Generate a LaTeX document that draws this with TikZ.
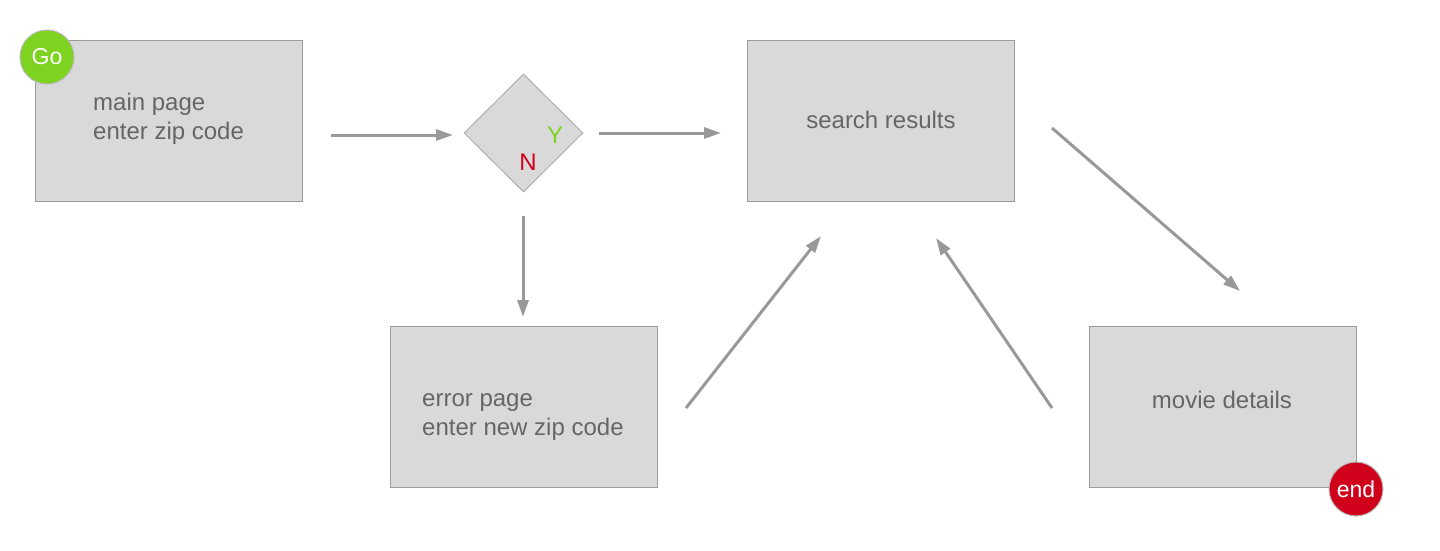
\documentclass[tikz,border=0pt]{standalone}
\usepackage{fontspec}
\setmainfont{Liberation Sans}
\usetikzlibrary{arrows.meta,shapes.geometric}
\definecolor{boxfill}{HTML}{D9D9D9}
\definecolor{boxline}{HTML}{9B9B9B}
\definecolor{txt}{HTML}{666666}
\definecolor{arr}{HTML}{999999}
\definecolor{gogreen}{HTML}{7ED321}
\definecolor{endred}{HTML}{D0021B}
\tikzset{
  pagebox/.style={draw=boxline, line width=1pt, fill=boxfill, minimum width=267pt, minimum height=161pt, inner sep=0pt},
  lbl/.style={text=txt, font=\fontsize{24}{29}\selectfont, align=left, inner sep=0pt},
  flow/.style={draw=arr, line width=3pt, -{Triangle[length=17pt,width=11pt]}},
  badge/.style={circle, draw=boxline!70, line width=1pt, minimum size=54pt, inner sep=0pt, text=white, font=\fontsize{23}{26}\selectfont},
  dec/.style={diamond, draw=boxline!80, line width=1pt, fill=boxfill, minimum width=119pt, minimum height=118pt, inner sep=0pt},
}
\begin{document}
\begin{tikzpicture}[x=1pt,y=-1pt]
\useasboundingbox (0,0) rectangle (1440,550);
% boxes
\node[pagebox] (main) at (168.5,120.5) {};
\node[pagebox] (search) at (880.5,121) {};
\node[pagebox] (error) at (523.5,407) {};
\node[pagebox] (movie) at (1222.5,407) {};
\node[dec] (check) at (523.5,133) {};
% texts
\node[lbl, anchor=base west] (t1) at (93,110) {main page};
\node[lbl, anchor=base west] (t2) at (93,139) {enter zip code};
\node[lbl, anchor=base] (t3) at (881,128) {search results};
\node[lbl, anchor=base west] (t4) at (422,406) {error page};
\node[lbl, anchor=base west] (t5) at (422,435) {enter new zip code};
\node[lbl, anchor=base] (t6) at (1222,408) {movie details};
\node[lbl, anchor=base, text=gogreen] (ylab) at (555,143) {Y};
\node[lbl, anchor=base, text=endred] (nlab) at (528,170) {N};
% badges
\node[badge, fill=gogreen] (go) at (47,57) {Go};
\node[badge, fill=endred] (end) at (1356,489) {end};
% connector ends
\coordinate (a1s) at (331,135); \coordinate (a1e) at (453,135);
\coordinate (a2s) at (599,133); \coordinate (a2e) at (721,133);
\coordinate (a3s) at (523,216); \coordinate (a3e) at (523,317);
\coordinate (a4s) at (686,408); \coordinate (a4e) at (821,236);
\coordinate (a5s) at (1052,408); \coordinate (a5e) at (936,238);
\coordinate (a6s) at (1052,128); \coordinate (a6e) at (1240,291);
\draw[flow] (a1s) -- (a1e);
\draw[flow] (a2s) -- (a2e);
\draw[flow] (a3s) -- (a3e);
\draw[flow] (a4s) -- (a4e);
\draw[flow] (a5s) -- (a5e);
\draw[flow] (a6s) -- (a6e);
\end{tikzpicture}
\end{document}
